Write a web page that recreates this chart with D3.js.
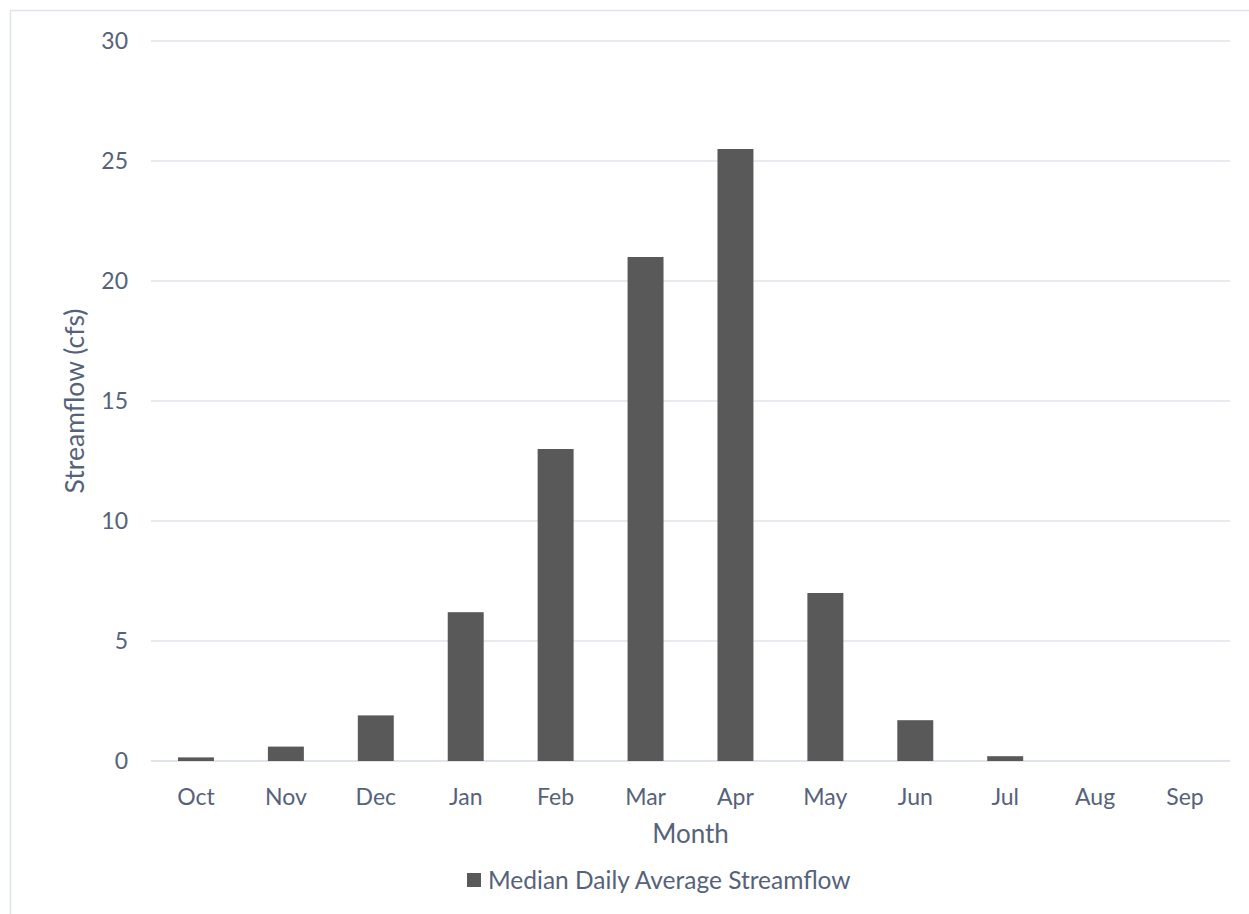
<!DOCTYPE html>
<html><head><meta charset="utf-8">
<script src="https://cdn.jsdelivr.net/npm/d3@7"></script>
<style>body{margin:0;background:#fff;} svg{display:block;}</style>
</head><body>
<svg id="c" width="1249" height="914"></svg>
<script>
const months = ["Oct","Nov","Dec","Jan","Feb","Mar","Apr","May","Jun","Jul","Aug","Sep"];
const streamflow = [0.15,0.6,1.9,6.2,13,21,25.5,7.0,1.7,0.2,0,0];
const yTicks = [0,5,10,15,20,25,30];
const seriesName = "Median Daily Average Streamflow";

const svg = d3.select("#c");
const font = "Lato, 'Open Sans', sans-serif";
const textColor = "#56627a";
const gridColor = "#dfe3ea";

svg.append("rect").attr("x",10.5).attr("y",10.5).attr("width",1260).attr("height",940)
  .attr("fill","none").attr("stroke","#dfe3ea").attr("stroke-width",1.5);

const m = {left:151, right:1230, top:41, bottom:761};
const x = d3.scaleBand().domain(months).range([m.left,m.right]).paddingInner(0.6).paddingOuter(0.3);
const y = d3.scaleLinear().domain([0,30]).range([m.bottom,m.top]);

const g = svg.append("g");
g.selectAll("line.grid").data(yTicks).join("line").attr("class","grid")
  .attr("x1",m.left).attr("x2",m.right).attr("y1",d=>y(d)).attr("y2",d=>y(d))
  .attr("stroke",gridColor).attr("stroke-width",d=>d===0?2:1.5);

g.selectAll("text.yt").data(yTicks).join("text").attr("class","yt")
  .attr("x",128).attr("y",d=>y(d)).attr("dy","0.35em").attr("text-anchor","end")
  .attr("font-family",font).attr("font-size",23).attr("fill",textColor).text(d=>d);

g.selectAll("rect.bar").data(months).join("rect").attr("class","bar")
  .attr("x",d=>x(d)).attr("width",x.bandwidth())
  .attr("y",(d,i)=>y(streamflow[i])).attr("height",(d,i)=>y(0)-y(streamflow[i]))
  .attr("fill","#595959");

g.selectAll("text.xt").data(months).join("text").attr("class","xt")
  .attr("x",d=>x(d)+x.bandwidth()/2).attr("y",797).attr("dy","0.35em").attr("text-anchor","middle")
  .attr("font-family",font).attr("font-size",23).attr("fill",textColor).text(d=>d);

svg.append("text").attr("x",(m.left+m.right)/2).attr("y",834).attr("dy","0.35em")
  .attr("text-anchor","middle").attr("font-family",font).attr("font-size",26)
  .attr("fill",textColor).text("Month");

svg.append("text").attr("transform","translate(75,"+((m.top+m.bottom)/2)+") rotate(-90)")
  .attr("dy","0.35em").attr("text-anchor","middle").attr("font-family",font).attr("font-size",26.5)
  .attr("fill",textColor).text("Streamflow (cfs)");

const lg = svg.append("g");
lg.append("text").attr("x",488).attr("y",880).attr("dy","0.35em")
  .attr("font-family",font).attr("font-size",24.5).attr("fill",textColor).text(seriesName);
lg.append("rect").attr("x",467).attr("y",873).attr("width",14).attr("height",14).attr("fill","#595959");
</script>
</body></html>
